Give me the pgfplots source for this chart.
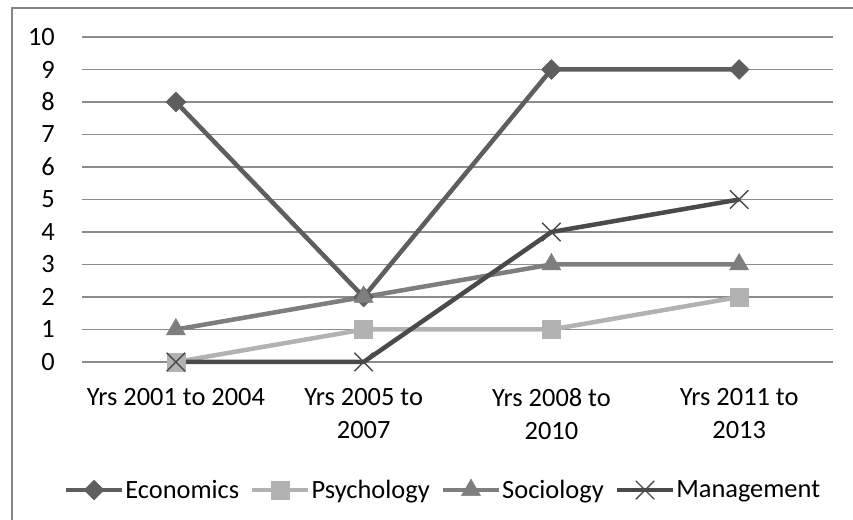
\documentclass[border=0pt]{standalone}
\usepackage{pgfplots}
\pgfplotsset{compat=1.18}
\usepackage{fontspec}
\setmainfont{Carlito}
\definecolor{econ}{HTML}{5E5E5E}
\definecolor{psych}{HTML}{B2B2B2}
\definecolor{soc}{HTML}{7E7E7E}
\definecolor{mgmt}{HTML}{4A4A4A}
\definecolor{gridc}{HTML}{8C8C8C}
\definecolor{framec}{HTML}{868686}
\begin{document}
\begin{tikzpicture}[x=1bp,y=1bp]
\useasboundingbox (0,0) rectangle (853,520);
\draw[framec, line width=1.5bp] (12,-10) -- (12,512) -- (870,512);
\begin{axis}[
  at={(82bp,158bp)}, anchor=south west,
  scale only axis, width=751bp, height=325bp,
  xmin=-0.5, xmax=3.5, ymin=0, ymax=10,
  xtick={0,1,2,3},
  xticklabels={{Yrs 2001 to 2004},{Yrs 2005 to\\2007},{Yrs 2008 to\\2010},{Yrs 2011 to\\2013}},
  ytick={0,1,...,10},
  major tick length=0pt,
  axis x line*=bottom, axis y line*=left,
  axis line style={draw=none},
  ymajorgrids, major grid style={gridc, line width=1.5bp},
  /pgf/number format/assume math mode=true,
  tick label style={font=\fontsize{26.5}{33}\selectfont},
  yticklabel style={anchor=east, inner sep=0pt, xshift=-27bp},
  xticklabel style={anchor=north, inner sep=0pt, yshift=-26bp, align=center},
  clip=false,
  legend columns=4,
  legend style={at={(0.48,-0.394)}, anchor=center, draw=none, fill=none,
    font=\fontsize{26.5}{30}\selectfont,
    nodes={inner sep=1bp},
    /tikz/every even column/.append style={column sep=10bp}},
  legend cell align=left,
  legend image code/.code={\draw[mark repeat=2,mark phase=2] plot coordinates {(0bp,0bp) (28bp,0bp) (56bp,0bp)};},
]
\addplot[econ, line width=4.5bp, mark=square*, mark size=7bp, mark options={rotate=45, solid, line width=0.5bp}] coordinates {(0,8) (1,2) (2,9) (3,9)};
\addlegendentry{Economics}
\addplot[psych, line width=4.5bp, mark=square*, mark size=9bp, mark options={solid, line width=0.5bp}] coordinates {(0,0) (1,1) (2,1) (3,2)};
\addlegendentry{Psychology}
\addplot[soc, line width=4.5bp, mark=triangle*, mark size=11bp, mark options={solid, line width=0.5bp}] coordinates {(0,1) (1,2) (2,3) (3,3)};
\addlegendentry{Sociology}
\addplot[mgmt, line width=4.5bp, mark=x, mark size=13bp, mark options={solid, line width=1.3bp}] coordinates {(0,0) (1,0) (2,4) (3,5)};
\addlegendentry{Management}
\end{axis}
\end{tikzpicture}
\end{document}
